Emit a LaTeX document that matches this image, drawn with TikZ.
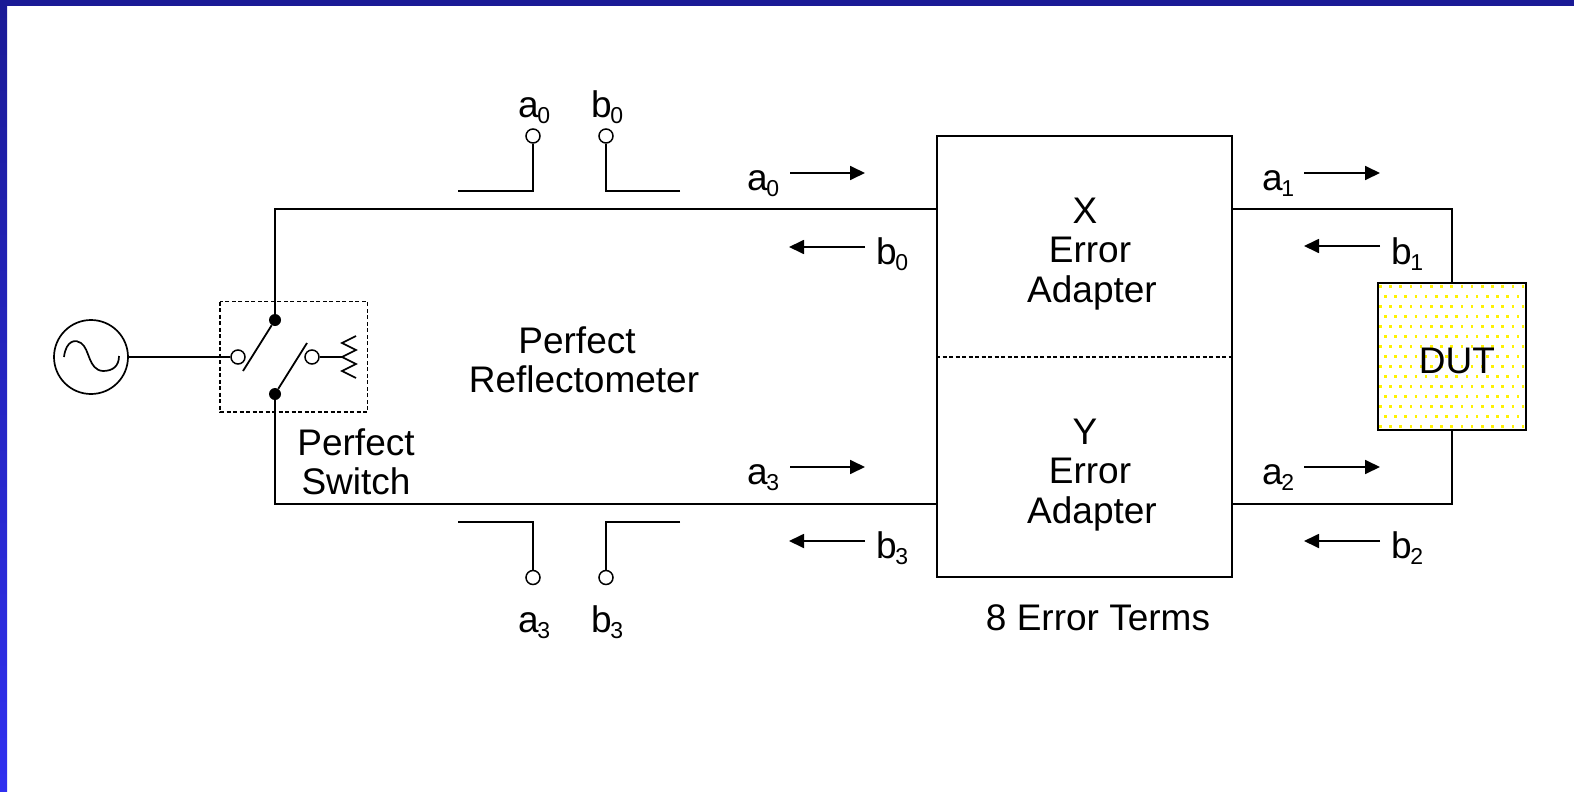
\documentclass[tikz,border=0pt]{standalone}
\usepackage{fontspec}
\setmainfont{Liberation Sans}
\usetikzlibrary{arrows.meta,positioning,calc}

\definecolor{banddark}{RGB}{26,26,150}
\definecolor{bandlight}{RGB}{48,48,240}

\newcommand{\sigl}[2]{#1\kern-1.5pt\raisebox{-6pt}{\fontsize{23}{23}\selectfont #2}}

\tikzset{
  wire/.style={line width=1.8pt},
  flow/.style={line width=1.8pt, -{Triangle[length=15pt,width=14pt]}},
  port/.style={circle, draw, line width=1.5pt, fill=white, minimum size=14pt, inner sep=0pt},
  joint/.style={circle, fill=black, minimum size=12pt, inner sep=0pt},
  txt/.style={inner sep=0pt, anchor=base, font=\fontsize{37}{39}\selectfont},
  sig/.style={inner sep=0pt, anchor=base west, font=\fontsize{37}{39}\selectfont},
  edge dash/.style={line width=1.4pt, dash pattern=on 4pt off 2.5pt}
}

\begin{document}
\begin{tikzpicture}[x=1pt,y=-1pt]
    \useasboundingbox (0,0) rectangle (1574,792);

    % Slide border
    \shade[top color=banddark, bottom color=bandlight] (0,0) rectangle (7,792);
    \fill[banddark] (0,0) rectangle (1574,6);

    % DUT fill, dots first
    \node[draw=none, minimum width=147.5pt, minimum height=147pt, inner sep=0pt] (dut) at (1452,356.5) {};
    \begin{scope}
      \clip (1378,283) rectangle (1525.7,430);
      \foreach \row in {0,...,14} {
        \pgfmathsetmacro{\shift}{mod(\row,2)*5}
        \foreach \col in {0,...,14} {
          \fill[yellow] ({1379+\shift+10.2*\col},{285+10*\row}) rectangle +(2.6,2.6);
        }
      }
    \end{scope}
    \draw[line width=1.6pt] (dut.north west) rectangle (dut.south east);
    \node[txt] (duttext) at (1457,373) {DUT};

    % Source
    \node[circle, draw, line width=1.7pt, minimum size=74pt, inner sep=0pt] (source) at (91,357) {};
    \draw[line width=1.7pt] (64,357) .. controls (66,340) and (76,339) .. (81,343)
      .. controls (90,349) and (88,370) .. (103,371)
      .. controls (113,371) and (119,366) .. (119,356);

    % Switch
    \draw[edge dash] (220,301.5) rectangle (367.5,412);
    \node[port] (swin) at (238,357) {};
    \node[port] (swload) at (312,357) {};
    \node[joint] (swtop) at (275,320) {};
    \node[joint] (swbot) at (275,394) {};
    \coordinate (armin) at (243,371);
    \coordinate (armload) at (307,343);
    \draw[wire] (source) -- (swin);
    \draw[wire] (swtop) -- (armin);
    \draw[wire] (swbot) -- (armload);

    % Load resistor
    \coordinate (loadmid) at (342,357);
    \draw[wire] (swload) -- (loadmid);
    \draw[line width=1.6pt] (356,336) -- (342,343) -- (356,350) -- (loadmid)
      -- (356,364) -- (342,371) -- (356,378);

    % Error box
    \node[draw, line width=1.6pt, minimum width=295pt, minimum height=441.5pt, inner sep=0pt] (errbox) at (1084.5,356.5) {};
    \draw[edge dash] (errbox.west |- 0,357) -- (errbox.east |- 0,357);

    % Main wires
    \coordinate (topl) at (275,209);
    \coordinate (botl) at (275,504);
    \coordinate (topr) at (1452,209);
    \coordinate (botr) at (1452,504);
    \draw[wire] (swtop) -- (topl) -- (errbox.west |- topl);
    \draw[wire] (swbot) -- (botl) -- (errbox.west |- botl);
    \draw[wire] (errbox.east |- topr) -- (topr) -- (dut.north);
    \draw[wire] (errbox.east |- botr) -- (botr) -- (dut.south);

    % Couplers
    \node[port] (pa0) at (533,136) {};
    \node[port] (pb0) at (606,136) {};
    \node[port] (pa3) at (533,577.5) {};
    \node[port] (pb3) at (606,577.5) {};
    \coordinate (ca0) at (458,191);
    \coordinate (cb0) at (680,191);
    \coordinate (ca3) at (458,522);
    \coordinate (cb3) at (680,522);
    \draw[wire] (ca0) -- (pa0 |- ca0) -- (pa0);
    \draw[wire] (cb0) -- (pb0 |- cb0) -- (pb0);
    \draw[wire] (ca3) -- (pa3 |- ca3) -- (pa3);
    \draw[wire] (cb3) -- (pb3 |- cb3) -- (pb3);
    \node[sig] (la0p) at (518,117) {\sigl{a}{0}};
    \node[sig] (lb0p) at (591,117) {\sigl{b}{0}};
    \node[sig] (la3p) at (518,632) {\sigl{a}{3}};
    \node[sig] (lb3p) at (591,632) {\sigl{b}{3}};

    % Wave arrows
    \foreach \nm/\lab/\sub/\xa/\ya/\xb/\yb/\lx/\ly in {
        a0/a/0/790/173/865/173/747/190,
        b0/b/0/865/247/789/247/876/264,
        a3/a/3/790/467/865/467/747/484,
        b3/b/3/865/541/789/541/876/558,
        a1/a/1/1304/173/1380/173/1262/190,
        b1/b/1/1380/246/1304/246/1391/264,
        a2/a/2/1304/467/1380/467/1262/484,
        b2/b/2/1380/541/1304/541/1391/558} {
      \coordinate (s\nm) at (\xa,\ya);
      \coordinate (e\nm) at (\xb,\yb);
      \draw[flow] (s\nm) -- (e\nm);
      \node[sig] (l\nm) at (\lx,\ly) {\sigl{\lab}{\sub}};
    }

    % Labels
    \node[txt] (perf) at (577,353) {Perfect};
    \node[txt] (refl) at (584,392) {Reflectometer};
    \node[txt] (psw1) at (356,455) {Perfect};
    \node[txt] (psw2) at (356,494) {Switch};
    \node[txt] (xlab) at (1085,223) {X};
    \node[txt] (xerr) at (1090,262) {Error};
    \node[txt] (xada) at (1092,302) {Adapter};
    \node[txt] (ylab) at (1085,444) {Y};
    \node[txt] (yerr) at (1090,483) {Error};
    \node[txt] (yada) at (1092,523) {Adapter};
    \node[txt] (terms) at (1098,630) {8 Error Terms};
\end{tikzpicture}
\end{document}
